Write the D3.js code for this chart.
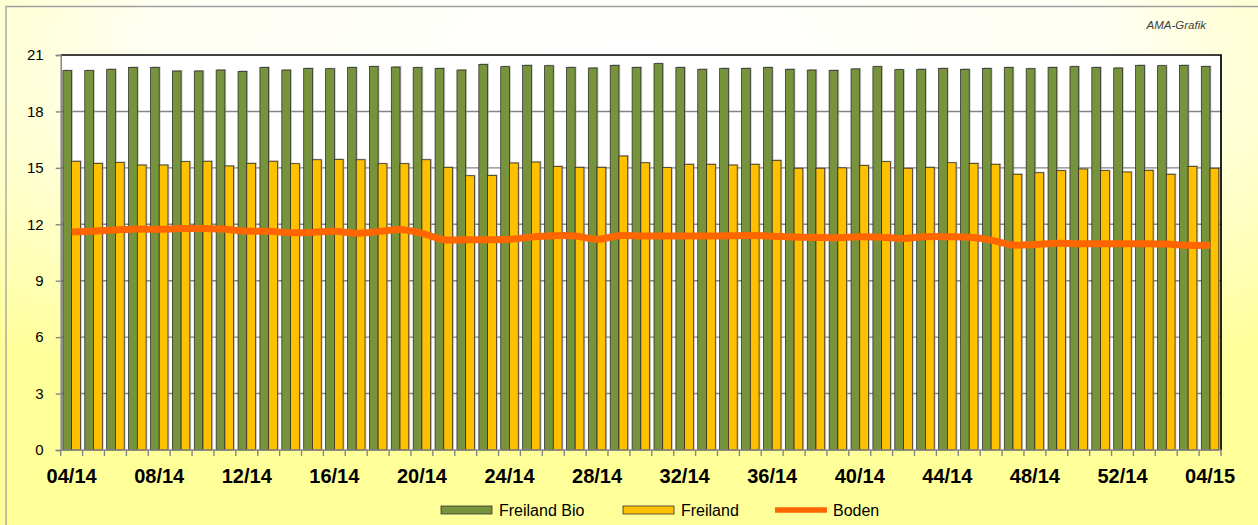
<!DOCTYPE html>
<html>
<head>
<meta charset="utf-8">
<script src="https://cdn.jsdelivr.net/npm/d3@7"></script>
<style>
  html, body { margin: 0; padding: 0; background: #fff; }
  svg { display: block; font-family: Arial, "Liberation Sans", sans-serif; }
</style>
</head>
<body>
<div id="chart"></div>
<script>
// week labels, 04/14 to 04/15
const weeks = [
  '04/14','05/14','06/14','07/14','08/14','09/14','10/14','11/14','12/14','13/14',
  '14/14','15/14','16/14','17/14','18/14','19/14','20/14','21/14','22/14','23/14',
  '24/14','25/14','26/14','27/14','28/14','29/14','30/14','31/14','32/14','33/14',
  '34/14','35/14','36/14','37/14','38/14','39/14','40/14','41/14','42/14','43/14',
  '44/14','45/14','46/14','47/14','48/14','49/14','50/14','51/14','52/14','01/15',
  '02/15','03/15','04/15'
];

const freilandBio = [
  20.17, 20.17, 20.24, 20.34, 20.34, 20.15, 20.15, 20.20, 20.13, 20.34,
  20.20, 20.29, 20.27, 20.34, 20.39, 20.36, 20.33, 20.29, 20.20, 20.50,
  20.38, 20.45, 20.43, 20.34, 20.31, 20.45, 20.34, 20.54, 20.34, 20.24,
  20.29, 20.29, 20.34, 20.24, 20.20, 20.18, 20.26, 20.38, 20.22, 20.24,
  20.29, 20.24, 20.29, 20.34, 20.27, 20.34, 20.38, 20.34, 20.31, 20.45,
  20.43, 20.45, 20.39
];

const freiland = [
  15.35, 15.24, 15.29, 15.15, 15.15, 15.33, 15.35, 15.10, 15.24, 15.35,
  15.22, 15.43, 15.45, 15.43, 15.22, 15.22, 15.43, 15.03, 14.58, 14.60,
  15.26, 15.31, 15.08, 15.03, 15.03, 15.63, 15.27, 15.01, 15.19, 15.19,
  15.15, 15.19, 15.40, 14.98, 14.98, 15.00, 15.13, 15.33, 14.98, 15.03,
  15.27, 15.24, 15.19, 14.66, 14.74, 14.85, 14.94, 14.85, 14.78, 14.87,
  14.66, 15.08, 14.98
];

const boden = [
  11.59, 11.64, 11.70, 11.75, 11.73, 11.77, 11.77, 11.73, 11.63, 11.63,
  11.55, 11.57, 11.63, 11.52, 11.61, 11.72, 11.52, 11.18, 11.18, 11.18,
  11.20, 11.32, 11.39, 11.38, 11.20, 11.39, 11.38, 11.38, 11.38, 11.38,
  11.39, 11.40, 11.37, 11.32, 11.30, 11.29, 11.34, 11.31, 11.25, 11.34,
  11.34, 11.31, 11.16, 10.90, 10.93, 10.99, 10.97, 10.97, 10.97, 10.97,
  10.95, 10.88, 10.88
];

const yTicks = [0, 3, 6, 9, 12, 15, 18, 21];
const legendItems = ['Freiland Bio', 'Freiland', 'Boden'];

const W = 1258, H = 525;
const margin = { top: 55, right: 37, bottom: 75, left: 60.7 };
const width = W - margin.left - margin.right;
const height = H - margin.top - margin.bottom;

const colors = { bio: '#77933c', frei: '#ffc000', boden: '#ff6600' };

const svg = d3.select('#chart').append('svg')
  .attr('width', W)
  .attr('height', H);

// background gradient: white at the top, pale yellow towards the edges
const defs = svg.append('defs');
const grad = defs.append('radialGradient')
  .attr('id', 'bg')
  .attr('cx', 0.5).attr('cy', 0.1).attr('r', 0.75);
grad.append('stop').attr('offset', 0).attr('stop-color', '#ffffff');
grad.append('stop').attr('offset', 0.5).attr('stop-color', '#fffff4');
grad.append('stop').attr('offset', 1).attr('stop-color', '#ffff99');

svg.append('rect')
  .attr('width', W).attr('height', H)
  .attr('fill', 'url(#bg)');

// outer frame (only left & top visible)
svg.append('path')
  .attr('d', `M6,${H} V6.5 H${W}`)
  .attr('fill', 'none')
  .attr('stroke', '#a0a0a0')
  .attr('stroke-width', 1.3);

svg.append('text')
  .attr('x', 1206).attr('y', 29)
  .attr('text-anchor', 'end')
  .attr('font-size', 11.5)
  .attr('font-style', 'italic')
  .attr('fill', '#404040')
  .text('AMA-Grafik');

const g = svg.append('g')
  .attr('transform', `translate(${margin.left},${margin.top})`);

const x = d3.scaleBand()
  .domain(weeks)
  .range([0, width])
  .paddingInner(0.2)
  .paddingOuter(0.1);

const step = width / weeks.length;

const y = d3.scaleLinear()
  .domain([0, 21])
  .range([height, 0]);

// plot area
g.append('rect')
  .attr('width', width).attr('height', height)
  .attr('fill', '#ffffff');

// gridlines
g.append('g')
  .selectAll('line')
  .data(yTicks.filter(d => d > 0 && d < 21))
  .join('line')
    .attr('x1', 0).attr('x2', width)
    .attr('y1', d => y(d)).attr('y2', d => y(d))
    .attr('stroke', '#858585')
    .attr('stroke-width', 1.4);

// bars
const half = x.bandwidth() / 2;
const series = [
  { key: 'bio', values: freilandBio, offset: 0 },
  { key: 'frei', values: freiland, offset: half }
];

series.forEach(s => {
  const layer = g.append('g');
  // soft shadow behind the bars
  layer.selectAll('rect.shadow')
    .data(s.values)
    .join('rect')
      .attr('class', 'shadow')
      .attr('x', (d, i) => x(weeks[i]) + s.offset + 1.3)
      .attr('y', d => y(d) - 1)
      .attr('width', half)
      .attr('height', d => height - y(d))
      .attr('fill', '#9a9a9a')
      .attr('opacity', 0.6);
  layer.selectAll('rect.bar')
    .data(s.values)
    .join('rect')
      .attr('class', 'bar')
      .attr('x', (d, i) => x(weeks[i]) + s.offset)
      .attr('y', d => y(d))
      .attr('width', half)
      .attr('height', d => height - y(d))
      .attr('fill', colors[s.key])
      .attr('stroke', '#222')
      .attr('stroke-width', 0.7);
});

// Boden line
const line = d3.line()
  .x((d, i) => x(weeks[i]) + x.bandwidth() / 2)
  .y(d => y(d))
  .curve(d3.curveCatmullRom.alpha(0.5));

g.append('path')
  .datum(boden)
  .attr('d', line)
  .attr('fill', 'none')
  .attr('stroke', colors.boden)
  .attr('stroke-width', 7)
  .attr('stroke-linejoin', 'round');

// plot frame: black top & right
g.append('path')
  .attr('d', `M0,0 H${width} V${height}`)
  .attr('fill', 'none')
  .attr('stroke', '#000')
  .attr('stroke-width', 1.7);

// y axis
const yAxis = d3.axisLeft(y)
  .tickValues(yTicks)
  .tickSize(5)
  .tickPadding(12)
  .tickFormat(d3.format('d'));

const ya = g.append('g').call(yAxis);
ya.select('.domain').attr('stroke', '#858585').attr('stroke-width', 1.5);
ya.selectAll('.tick line').attr('stroke', '#858585').attr('stroke-width', 1.4);
ya.selectAll('.tick text')
  .attr('font-size', 15)
  .attr('font-family', 'Arial, "Liberation Sans", sans-serif')
  .attr('fill', '#000');

// x axis: ticks between categories, labels every fourth week
const xb = g.append('g').attr('transform', `translate(0,${height})`);
xb.append('line')
  .attr('x1', 0).attr('x2', width)
  .attr('stroke', '#858585').attr('stroke-width', 1.5);
xb.selectAll('line.tick')
  .data(d3.range(weeks.length + 1))
  .join('line')
    .attr('class', 'tick')
    .attr('x1', i => i * step).attr('x2', i => i * step)
    .attr('y1', 0).attr('y2', 6)
    .attr('stroke', '#858585')
    .attr('stroke-width', 1.4);
xb.selectAll('text')
  .data(weeks.filter((d, i) => i % 4 === 0))
  .join('text')
    .attr('x', d => x(d) + x.bandwidth() / 2)
    .attr('y', 32.5)
    .attr('text-anchor', 'middle')
    .attr('font-size', 20)
    .attr('font-weight', 'bold')
    .attr('fill', '#000')
    .text(d => d);

// legend
const legend = svg.append('g');
const legendX = [441, 623, 775];
legendItems.forEach((name, i) => {
  const lg = legend.append('g').attr('transform', `translate(${legendX[i]},510)`);
  if (i < 2) {
    lg.append('rect')
      .attr('x', 0).attr('y', -4)
      .attr('width', 51).attr('height', 8)
      .attr('fill', i === 0 ? colors.bio : colors.frei)
      .attr('stroke', '#333')
      .attr('stroke-width', 0.8);
  } else {
    lg.append('line')
      .attr('x1', 0).attr('x2', 52)
      .attr('stroke', colors.boden)
      .attr('stroke-width', 5.5);
  }
  lg.append('text')
    .attr('x', 58).attr('y', 0)
    .attr('dy', '0.36em')
    .attr('font-size', 16)
    .attr('fill', '#000')
    .text(name);
});
</script>
</body>
</html>
